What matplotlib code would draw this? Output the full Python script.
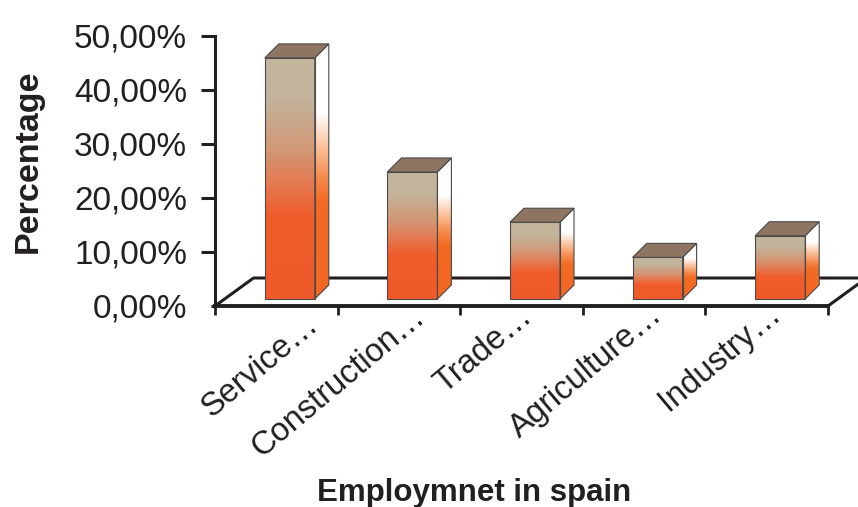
import matplotlib.pyplot as plt
from matplotlib.patches import Polygon
import numpy as np

plt.rcParams['font.family'] = ['Liberation Sans', 'DejaVu Sans']

# Employment share by sector
categories = ['Service…', 'Construction…', 'Trade…', 'Agriculture…', 'Industry…']
shares = [44.6, 23.5, 14.2, 7.7, 11.7]
y_ticks = [0, 10, 20, 30, 40, 50]
y_tick_labels = [f"{t:.2f}%".replace('.', ',') for t in y_ticks]

INK = '#231f20'
EDGE = '#4a4a4a'
TOP = (142 / 255, 117 / 255, 98 / 255)

W, H, DPI = 858, 507, 100
fig = plt.figure(figsize=(W / DPI, H / DPI), dpi=DPI)
ax = fig.add_axes([215 / W, (H - 306) / H, 613 / W, 270.3 / H])
ax.set_xlim(-0.5, len(categories) - 0.5)
ax.set_ylim(0, 50)

# pixel sizes of one category / one percent, used for the 3d offsets
px_x = 613 / len(categories)
px_y = 270.3 / 50

floor_dx, floor_dy = 38.5 / px_x, 28 / px_y     # depth of the floor
base_dx, base_dy = 13.5 / px_x, 7 / px_y        # bars sit in the middle of the floor
depth_dx, depth_dy = 14 / px_x, 14 / px_y       # depth of each bar
half_w = 25 / px_x


def gradient(stops, n=256):
    # stops: (fraction from top, (r, g, b)) -> column image, top row first
    pos = np.array([s[0] for s in stops])
    cols = np.array([s[1] for s in stops], dtype=float) / 255
    t = np.linspace(0, 1, n)
    img = np.stack([np.interp(t, pos, cols[:, k]) for k in range(3)], axis=-1)
    return img[:, None, :]


front_grad = gradient([(0.0, (196, 183, 158)), (0.18, (194, 179, 154)),
                       (0.38, (210, 152, 118)), (0.52, (228, 122, 82)),
                       (0.66, (240, 92, 42)), (1.0, (240, 90, 42))])
side_grad = gradient([(0.0, (255, 255, 255)), (0.27, (255, 255, 255)),
                      (0.40, (251, 196, 160)), (0.52, (246, 140, 80)),
                      (0.62, (243, 106, 34)), (1.0, (242, 103, 34))])

# floor outline behind the bars
fx = [-0.5, -0.5 + floor_dx, len(categories) - 0.5 + floor_dx, len(categories) - 0.5]
fy = [0, floor_dy, floor_dy, 0]
ax.plot(fx, fy, color=INK, lw=2.2, clip_on=False, zorder=1, solid_capstyle='butt')

for i, v in enumerate(shares):
    x0 = i + base_dx - half_w
    x1 = i + base_dx + half_w
    y0 = base_dy
    y1 = base_dy + v

    # front face
    ax.imshow(front_grad, extent=(x0, x1, y0, y1), aspect='auto',
              interpolation='bilinear', zorder=3)
    ax.add_patch(Polygon([(x0, y0), (x1, y0), (x1, y1), (x0, y1)], closed=True,
                         facecolor='none', edgecolor=EDGE, lw=0.8, zorder=4))

    # right side face
    side = [(x1, y0), (x1 + depth_dx, y0 + depth_dy), (x1 + depth_dx, y1 + depth_dy), (x1, y1)]
    im = ax.imshow(side_grad, extent=(x1, x1 + depth_dx, y0, y1 + depth_dy), aspect='auto',
                   interpolation='bilinear', zorder=3)
    clip = Polygon(side, closed=True, transform=ax.transData)
    im.set_clip_path(clip)
    ax.add_patch(Polygon(side, closed=True, facecolor='none', edgecolor=EDGE, lw=0.8, zorder=4))

    # top face
    top = [(x0, y1), (x1, y1), (x1 + depth_dx, y1 + depth_dy), (x0 + depth_dx, y1 + depth_dy)]
    ax.add_patch(Polygon(top, closed=True, facecolor=TOP, edgecolor=EDGE, lw=0.8, zorder=4))

ax.set_xlim(-0.5, len(categories) - 0.5)
ax.set_ylim(0, 50)

for s in ['top', 'right']:
    ax.spines[s].set_visible(False)
ax.spines['left'].set_linewidth(2.2)
ax.spines['bottom'].set_linewidth(2.8)
for s in ['left', 'bottom']:
    ax.spines[s].set_color(INK)
    ax.spines[s].set_zorder(5)

ax.set_yticks(y_ticks)
ax.set_yticklabels(y_tick_labels, fontsize=24, color=INK)
ax.tick_params(axis='y', direction='out', length=10, width=2.2, color=INK, pad=10)
ax.yaxis.get_major_ticks()[0].tick1line.set_markersize(3)

ax.set_xticks(np.arange(len(categories) + 1) - 0.5)
ax.set_xticklabels([])
ax.tick_params(axis='x', direction='out', length=6.5, width=2.0, color=INK)

# rotated category names; (dx, dy) pixel nudge of the text end from the category centre
label_nudge = [(44, 21), (28, 13), (12, 13), (20, 11), (16, 10)]
for i, (name, (dx, dy)) in enumerate(zip(categories, label_nudge)):
    ax.text(i + dx / px_x, -dy / px_y, name, rotation=40, rotation_mode='anchor',
            ha='right', va='baseline', fontsize=23.5, color=INK, clip_on=False)

fig.text(28 / W, 1 - 161 / H, 'Percentage', rotation=90, ha='center', va='center',
         fontsize=24.5, fontweight='bold', color=INK)
fig.text(474 / W, 1 - 501 / H, 'Employmnet in spain', ha='center', va='baseline',
         fontsize=22.5, fontweight='bold', color=INK)

fig.savefig('out.png', dpi=DPI)
